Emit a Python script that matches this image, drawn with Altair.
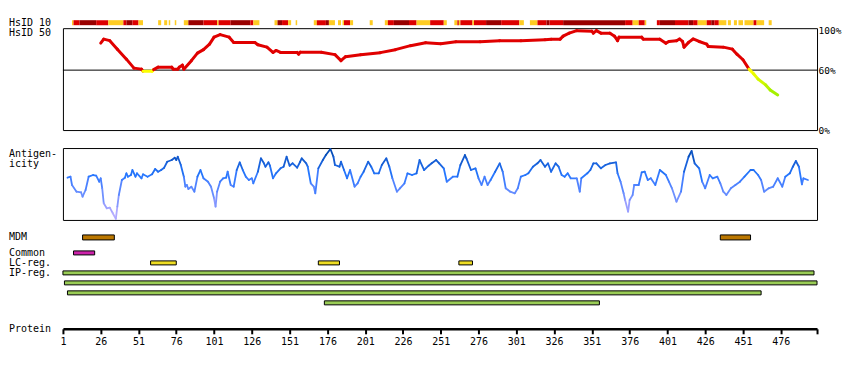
import altair as alt
import pandas as pd

FONT = "DejaVu Sans Mono"
W = 755
X_DOMAIN = [1, 500]
LABEL_X = -54

# ---------------- HsID 10 strip (residue ranges, similarity class) ----------------
strip_start = [7, 8, 12, 23, 31, 41, 43, 47, 51, 64, 68, 71, 75, 81, 84, 94, 103, 104, 112, 125,
               127, 141, 143, 146, 150, 155, 167, 169, 175, 177, 183, 186, 187, 191, 204, 214, 216, 220, 230, 235,
               244, 253, 260, 262, 263, 264, 272, 273, 281, 291, 303, 310, 315, 321, 323, 332, 373, 378, 382, 386,
               394, 396, 406, 415, 418, 421, 427, 430, 432, 435, 441, 445, 448, 452, 458, 460, 468]
strip_end = [8, 12, 23, 31, 41, 43, 47, 51, 54, 66, 70, 72, 76, 84, 94, 103, 104, 112, 125, 127,
             131, 143, 146, 150, 152, 156, 169, 175, 177, 181, 185, 187, 191, 193, 206, 216, 220, 230, 235, 244,
             253, 255, 262, 263, 264, 272, 273, 281, 291, 303, 306, 315, 321, 323, 332, 373, 378, 382, 386, 387,
             396, 406, 415, 418, 421, 427, 430, 432, 435, 440, 443, 447, 451, 458, 460, 465, 470]
strip_level = ["Y", "R", "D", "R", "Y", "R", "D", "R", "Y", "Y", "Y", "Y", "Y", "Y", "D", "R", "Y", "R", "D", "R",
               "Y", "Y", "D", "R", "Y", "Y", "Y", "R", "D", "Y", "Y", "Y", "R", "Y", "Y", "Y", "R", "D", "R", "Y",
               "R", "Y", "Y", "R", "Y", "R", "Y", "R", "D", "R", "Y", "Y", "R", "D", "R", "D", "R", "Y", "R", "Y",
               "R", "D", "R", "D", "R", "Y", "R", "D", "R", "Y", "Y", "Y", "Y", "Y", "R", "Y", "Y"]

# ---------------- HsID 50 identity (%) ----------------
hs_pos = [26, 28, 32, 37, 43, 48, 53, 54, 60, 61,
          64, 73, 74, 77, 78, 80, 81, 86, 90, 94,
          98, 101, 105, 111, 114, 128, 130, 136, 140, 142,
          145, 156, 157, 158, 172, 181, 185, 188, 198, 211,
          221, 231, 241, 251, 261, 277, 290, 304, 320, 324,
          330, 332, 336, 341, 351, 352, 354, 357, 363, 366,
          368, 369, 384, 385, 396, 400, 402, 407, 409, 411,
          412, 415, 418, 422, 427, 428, 438, 444, 447, 451,
          455, 458, 461, 466, 469, 474]
hs_val = [87, 91, 89.5, 81, 71, 62, 61, 59, 59, 60.5,
          63, 63, 61, 61, 63, 65, 61, 69.5, 77, 80.5,
          86, 93, 95.5, 93, 87.7, 87.7, 85.4, 83, 77.7, 79.7,
          77.7, 77.7, 76, 78, 78, 75.5, 69.5, 73.5, 75.5, 77.5,
          80.5, 84.5, 87.5, 86.5, 88.5, 88.5, 89.5, 89.5, 90.5, 91,
          91, 94, 97, 99.5, 99, 97, 99.5, 97, 97, 94,
          89.5, 93, 93, 91, 91, 87, 88.7, 89.4, 91.2, 88.7,
          83, 87.8, 91.2, 88.7, 86, 83.7, 83, 81, 76, 70.4,
          61, 56.3, 51, 45.2, 40.2, 35.2]

# ---------------- Antigenicity (arbitrary score) ----------------
ag_pos = [4, 6, 7, 10, 13, 14, 16, 18, 21, 23,
          25, 26, 27, 28, 30, 32, 34, 36, 37, 38,
          40, 42, 43, 44, 46, 47, 49, 50, 53, 54,
          57, 60, 62, 64, 66, 68, 70, 73, 75, 76,
          77, 79, 81, 82, 83, 84, 86, 88, 90, 92,
          94, 97, 99, 101, 102, 103, 105, 107, 109, 110,
          112, 114, 116, 118, 120, 122, 124, 126, 127, 130,
          132, 134, 135, 137, 138, 140, 142, 145, 147, 149,
          151, 153, 156, 158, 159, 162, 163, 165, 167, 168,
          170, 173, 175, 178, 180, 181, 184, 185, 187, 189,
          191, 194, 196, 198, 200, 203, 205, 207, 210, 212,
          215, 217, 219, 222, 224, 227, 229, 232, 235, 237,
          240, 243, 245, 248, 250, 253, 255, 259, 262, 264,
          267, 268, 271, 274, 276, 278, 280, 282, 284, 287,
          290, 292, 294, 297, 300, 302, 304, 307, 309, 312,
          315, 317, 320, 322, 324, 327, 329, 331, 333, 335,
          337, 341, 343, 344, 348, 350, 352, 354, 357, 360,
          363, 367, 368, 370, 372, 373, 375, 376, 378, 379,
          382, 384, 386, 388, 390, 393, 396, 400, 402, 404,
          407, 410, 412, 415, 417, 419, 422, 424, 426, 429,
          431, 434, 436, 438, 440, 443, 446, 449, 452, 456,
          458, 461, 463, 465, 468, 471, 474, 477, 479, 482,
          484, 486, 488, 490, 491, 494]
ag_val = [42.3, 43.3, 35, 28.3, 27.7, 23.3, 30, 43.3, 45, 44.3,
          38.3, 41.7, 31.7, 16.7, 11.7, 12.3, 6.7, 1, 13.3, 25,
          40, 42.3, 46.7, 43.3, 45, 50, 43.3, 46.7, 41.7, 45.7,
          43.3, 45.7, 51, 48.3, 50, 52.3, 58.3, 60, 62.3, 60,
          63.3, 55, 43.3, 33.3, 35, 31, 33.3, 28.3, 43.3, 50,
          41.7, 38.3, 33.3, 21.7, 13.3, 28.3, 38.3, 41.7, 42.3, 48.3,
          35, 33.3, 50, 57.7, 50, 43.3, 40, 41.7, 36.7, 48.3,
          61.7, 56.7, 53.3, 57.7, 54.3, 41.7, 46.7, 51.7, 53.3, 63.3,
          54.3, 56.7, 52.3, 58.3, 61.7, 56.7, 53.3, 36.7, 33.3, 26.7,
          51.7, 60, 65, 71, 63.3, 55, 53.3, 58.3, 50, 41.7,
          50, 33.3, 36.7, 43.3, 48.3, 58.3, 53.3, 46.7, 46.7, 55,
          61.7, 53.3, 41.7, 28.3, 31.7, 36.7, 46.7, 45, 46.7, 60,
          50, 54.3, 56.7, 60, 56.7, 51.7, 38.3, 43.3, 43.3, 55,
          65, 61.7, 50, 51.7, 41.7, 35, 43.3, 35, 40, 48.3,
          56.7, 48.3, 31.7, 28.3, 26.7, 31.7, 43.3, 45, 46.7, 53.3,
          56.7, 60, 53.3, 56.7, 48.3, 56.7, 53.3, 45, 43.3, 46.7,
          41.7, 41.7, 28.3, 41.7, 46.7, 50, 56.7, 56.7, 51.7, 55,
          56.7, 57.7, 46.7, 38.3, 26.7, 20, 8.3, 20, 25, 35,
          35, 47.7, 48.3, 40, 41.7, 35, 50, 45, 38.3, 31.7,
          18.3, 28.3, 48.3, 63.3, 69, 56.7, 51.7, 38.3, 31.7, 45,
          41.7, 43.3, 36.7, 28.3, 25, 31.7, 35, 38.3, 43.3, 50,
          50, 45, 40, 28.3, 31.7, 33.3, 41.7, 33.3, 43.3, 46.7,
          53.3, 59, 53.3, 35.7, 41.7, 40]

# ---------------- Feature tracks ----------------
mdm_start = [14, 436]
mdm_end = [35, 456]
feat_lane = ["common", "lc", "lc", "lc", "ip1", "ip2", "ip3", "ip4"]
feat_kind = ["Common", "LC-reg.", "LC-reg.", "LC-reg.", "IP-reg.", "IP-reg.", "IP-reg.", "IP-reg."]
feat_start = [8, 59, 170, 263, 1, 2, 4, 174]
feat_end = [22, 76, 184, 272, 498, 500, 463, 356]
lanes = ["common", "lc", "ip1", "ip2", "ip3", "ip4"]
lane_labels = ["Common", "LC-reg.", "IP-reg."]
lane_label_ids = ["common", "lc", "ip1"]

tick_vals = [1, 26, 51, 76, 101, 126, 151, 176, 201, 226, 251, 276, 301, 326, 351, 376, 401, 426, 451, 476, 500]

XS = alt.Scale(domain=X_DOMAIN, nice=False, zero=False)


def label(text, y, baseline="middle"):
    return alt.Chart(pd.DataFrame({"t": [text]})).mark_text(
        align="left", baseline=baseline, font=FONT, fontSize=10, color="black",
        lineBreak="\n", lineHeight=10
    ).encode(text="t:N", x=alt.value(LABEL_X), y=alt.value(y))


def spacer(h):
    return alt.Chart(pd.DataFrame({"x": [1]})).mark_point(opacity=0).encode(
        x=alt.X("x:Q", scale=XS, axis=None)
    ).properties(width=W, height=h)


def segments(pos, val):
    df = pd.DataFrame({"x0": pos[:-1], "x1": pos[1:], "y0": val[:-1], "y1": val[1:]})
    df["c"] = (df["y0"] + df["y1"]) / 2
    return df


BOX = alt.ViewBackground(stroke="black", strokeWidth=1)

# strip panel
strip_df = pd.DataFrame({"start": strip_start, "end": strip_end, "level": strip_level})
strip = alt.Chart(strip_df).mark_rect(strokeWidth=0).encode(
    x=alt.X("start:Q", scale=XS, axis=None), x2="end:Q",
    color=alt.Color("level:N", scale=alt.Scale(domain=["Y", "R", "D"],
                                               range=["#ffcc22", "#dd0000", "#990000"]), legend=None)
)
strip_panel = alt.layer(strip, label("HsID 10", 2.7)).properties(width=W, height=5)

# HsID 50 panel
HS_Y = alt.Scale(domain=[0, 102], nice=False, zero=False)
HS_AXIS = alt.Axis(orient="right", values=[0, 60, 100], labelExpr="datum.value + '%'", tickSize=0,
                   domain=False, grid=False, labelFont=FONT, labelFontSize=9.5, labelPadding=1,
                   labelColor="black", title=None)
ref = alt.Chart(pd.DataFrame({"ref": [60]})).mark_rule(color="black", strokeWidth=1).encode(
    y=alt.Y("ref:Q", scale=HS_Y, axis=HS_AXIS)
)
hs_line = alt.Chart(segments(hs_pos, hs_val)).mark_rule(strokeWidth=3, strokeCap="round").encode(
    x=alt.X("x0:Q", scale=XS, axis=None), x2="x1:Q",
    y=alt.Y("y0:Q", scale=HS_Y, axis=HS_AXIS), y2="y1:Q",
    color=alt.Color("c:Q", scale=alt.Scale(domain=[35, 59.99, 60, 102],
                                           range=["#99ee00", "#ffff00", "#e00000", "#e00000"]), legend=None)
)
hs_panel = alt.layer(ref, hs_line, label("HsID 50", 4.7)).properties(width=W, height=102, view=BOX)

# antigenicity panel
AG_Y = alt.Scale(domain=[0, 72], nice=False, zero=False)
ag_line = alt.Chart(segments(ag_pos, ag_val)).mark_rule(strokeWidth=1.8, strokeCap="round").encode(
    x=alt.X("x0:Q", scale=XS, axis=None), x2="x1:Q",
    y=alt.Y("y0:Q", scale=AG_Y, axis=None), y2="y1:Q",
    color=alt.Color("c:Q", scale=alt.Scale(domain=[5, 25, 45, 70],
                                           range=["#b4acff", "#6c90ff", "#2577ff", "#0048b0"]), legend=None)
)
ag_panel = alt.layer(ag_line, label("Antigen-\nicity", 1, "top")).properties(width=W, height=72, view=BOX)

# MDM panel
mdm = alt.Chart(pd.DataFrame({"start": mdm_start, "end": mdm_end})).mark_rect(
    color="#bb7700", stroke="black", strokeWidth=1
).encode(x=alt.X("start:Q", scale=XS, axis=None), x2="end:Q")
mdm_panel = alt.layer(mdm, label("MDM", 2.5)).properties(width=W, height=5)

# lanes panel
LANE_Y = alt.Scale(domain=lanes, paddingInner=0.6, paddingOuter=0.3)
feat_df = pd.DataFrame({"lane": feat_lane, "kind": feat_kind, "start": feat_start, "end": feat_end})
feats = alt.Chart(feat_df).mark_rect(stroke="black", strokeWidth=1).encode(
    x=alt.X("start:Q", scale=XS, axis=None), x2="end:Q",
    y=alt.Y("lane:N", scale=LANE_Y, axis=None),
    color=alt.Color("kind:N", scale=alt.Scale(domain=["Common", "LC-reg.", "IP-reg."],
                                              range=["#cc22aa", "#eedd22", "#99cc55"]), legend=None)
)
lane_text = alt.Chart(pd.DataFrame({"lane": lane_label_ids, "t": lane_labels})).mark_text(
    align="left", baseline="middle", font=FONT, fontSize=10, color="black"
).encode(text="t:N", x=alt.value(LABEL_X), y=alt.Y("lane:N", scale=LANE_Y, axis=None))
lane_panel = alt.layer(feats, lane_text).properties(width=W, height=60)

# protein axis panel
axis_pts = alt.Chart(pd.DataFrame({"x": tick_vals})).mark_point(opacity=0).encode(
    x=alt.X("x:Q", scale=XS, axis=alt.Axis(
        values=tick_vals, labelExpr="datum.value == 500 ? '' : datum.label", format="d",
        domainColor="black", domainWidth=2.5, tickColor="black", tickWidth=2, tickSize=5,
        labelFont=FONT, labelFontSize=10, labelColor="black", labelPadding=3, grid=False,
        title=None, labelFlush=False, labelOverlap=False))
)
axis_panel = alt.layer(axis_pts, label("Protein", 21)).properties(width=W, height=21)

chart = alt.vconcat(
    spacer(12), strip_panel, spacer(3), hs_panel, spacer(18), ag_panel, spacer(15),
    mdm_panel, spacer(8), lane_panel, axis_panel,
    spacing=0, bounds="flush"
).properties(
    padding={"left": 0, "top": 0, "right": 0, "bottom": 5}, background="white"
).configure_view(stroke=None)

chart.save("out.html", embed_options={"renderer": "svg", "actions": False})
